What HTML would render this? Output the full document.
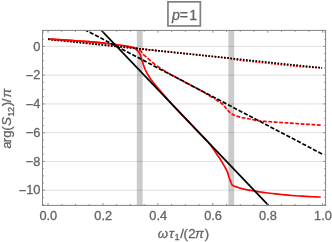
<!DOCTYPE html>
<html><head><meta charset="utf-8"><title>p=1</title>
<style>html,body{margin:0;padding:0;background:#fff;overflow:hidden}body{width:332px;height:242px;position:relative;font-family:"Liberation Sans",sans-serif}</style></head>
<body>
<svg width="332" height="242" viewBox="0 0 332 242" style="position:absolute;left:0;top:0;will-change:transform;font-family:'Liberation Sans',sans-serif">
<rect width="332" height="242" fill="#fff"/>
<style>text{stroke:#646464;stroke-width:0.3px}</style>
<defs><clipPath id="c"><rect x="42.5" y="30.4" width="283.1" height="175.0"/></clipPath></defs>
<rect x="136.82" y="30.4" width="5.8" height="175.0" fill="#cbcbcb"/>
<rect x="228.36" y="30.4" width="5.8" height="175.0" fill="#cbcbcb"/>
<line x1="42.5" x2="325.6" y1="46.40" y2="46.40" stroke="#000" stroke-width="0.9" stroke-opacity="0.14"/>
<line x1="42.5" x2="325.6" y1="75.16" y2="75.16" stroke="#000" stroke-width="0.9" stroke-opacity="0.14"/>
<line x1="42.5" x2="325.6" y1="103.92" y2="103.92" stroke="#000" stroke-width="0.9" stroke-opacity="0.14"/>
<line x1="42.5" x2="325.6" y1="132.68" y2="132.68" stroke="#000" stroke-width="0.9" stroke-opacity="0.14"/>
<line x1="42.5" x2="325.6" y1="161.44" y2="161.44" stroke="#000" stroke-width="0.9" stroke-opacity="0.14"/>
<line x1="42.5" x2="325.6" y1="190.20" y2="190.20" stroke="#000" stroke-width="0.9" stroke-opacity="0.14"/>
<g clip-path="url(#c)" fill="none" stroke-width="1.7" stroke-linejoin="round">
<path d="M126.00,46.10 L126.49,46.19 L127.15,46.32 L127.94,46.48 L128.81,46.65 L129.71,46.82 L130.59,47.00 L131.40,47.16 L132.10,47.30 L132.69,47.42 L133.23,47.54 L133.72,47.65 L134.18,47.76 L134.63,47.86 L135.07,47.96 L135.52,48.05 L136.00,48.15 L136.45,48.24 L136.85,48.33 L137.23,48.41 L137.62,48.48 L138.06,48.56 L138.58,48.65 L139.21,48.74 L140.00,48.84 L140.96,48.96 L142.08,49.08 L143.31,49.21 L144.62,49.34 L145.99,49.48 L147.36,49.62 L148.71,49.76 L150.00,49.89 L151.32,50.03 L152.73,50.18 L154.19,50.33 L155.62,50.48 L156.98,50.62 L158.20,50.75 L159.23,50.86 L160.00,50.94" stroke="#f00" stroke-dasharray="1.7 1.46" stroke-dashoffset="2.39"/>
<path d="M48.04,39.21 L229.00,58.16 L232.00,58.81 L235.00,59.46 L238.00,60.11 L260.00,62.41 L280.00,64.50 L300.00,66.60 L305.00,66.90 L310.00,67.19 L315.00,67.49 L320.00,67.78 L322.09,67.91" stroke="#f00" stroke-dasharray="1.7 1.46"/>
<path d="M126.00,46.10 L126.49,46.20 L127.17,46.33 L127.98,46.48 L128.87,46.66 L129.78,46.83 L130.66,47.01 L131.45,47.17 L132.10,47.30 L132.61,47.41 L133.05,47.49 L133.42,47.57 L133.74,47.64 L134.05,47.71 L134.34,47.79 L134.65,47.88 L135.00,48.00 L135.37,48.14 L135.74,48.29 L136.12,48.45 L136.49,48.62 L136.87,48.80 L137.25,48.99 L137.62,49.19 L138.00,49.40 L138.38,49.61 L138.75,49.82 L139.12,50.04 L139.50,50.26 L139.88,50.51 L140.25,50.77 L140.62,51.07 L141.00,51.40 L141.37,51.78 L141.74,52.20 L142.10,52.65 L142.46,53.12 L142.83,53.61 L143.21,54.09 L143.60,54.56 L144.00,55.00 L144.42,55.42 L144.86,55.83 L145.30,56.23 L145.76,56.63 L146.22,57.02 L146.68,57.41 L147.14,57.80 L147.60,58.20 L148.05,58.60 L148.51,59.01 L148.97,59.41 L149.42,59.82 L149.88,60.22 L150.34,60.62 L150.79,61.01 L151.25,61.40 L151.71,61.78 L152.16,62.15 L152.62,62.52 L153.08,62.89 L153.53,63.25 L153.99,63.60 L154.45,63.95 L154.90,64.30 L155.35,64.64 L155.80,64.97 L156.25,65.30 L156.70,65.62 L157.15,65.95 L157.60,66.26 L158.05,66.58 L158.50,66.90 L158.94,67.21 L159.37,67.52 L159.80,67.83 L160.23,68.13 L160.66,68.44 L161.12,68.75 L161.59,69.07 L162.10,69.40 L162.65,69.75 L163.24,70.12 L163.86,70.49 L164.50,70.88 L165.14,71.25 L165.76,71.62 L166.35,71.97 L166.90,72.30 L167.40,72.60 L167.86,72.88 L168.30,73.14 L168.72,73.39 L169.14,73.63 L169.56,73.88 L170.02,74.13 L170.50,74.40 L171.00,74.67 L171.50,74.93 L172.01,75.19 L172.54,75.46 L173.09,75.74 L173.68,76.04 L174.31,76.37 L175.00,76.74 L175.73,77.14 L176.50,77.56 L177.31,78.01 L178.16,78.49 L179.05,78.98 L179.98,79.50 L180.96,80.04 L182.00,80.60 L183.12,81.20 L184.34,81.84 L185.62,82.51 L186.94,83.20 L188.26,83.89 L189.57,84.57 L190.83,85.22 L192.00,85.84 L193.12,86.42 L194.23,87.00 L195.32,87.57 L196.38,88.12 L197.38,88.64 L198.33,89.14 L199.21,89.60 L200.00,90.03 L200.69,90.40 L201.27,90.73 L201.78,91.01 L202.23,91.27 L202.65,91.52 L203.07,91.77 L203.51,92.03 L204.00,92.32 L204.53,92.64 L205.08,92.97 L205.64,93.32 L206.20,93.66 L206.75,94.01 L207.30,94.35 L207.81,94.67 L208.30,94.97 L208.75,95.26 L209.17,95.52 L209.57,95.77 L209.96,96.02 L210.33,96.26 L210.71,96.50 L211.10,96.75 L211.50,97.00 L211.92,97.26 L212.34,97.53 L212.77,97.80 L213.21,98.07 L213.64,98.34 L214.07,98.61 L214.49,98.87 L214.90,99.13" stroke="#f00" stroke-dasharray="4.2 1.8" stroke-dashoffset="4.31"/>
<path d="M214.90,99.13 L215.30,99.38 L215.68,99.63 L216.06,99.87 L216.44,100.10 L216.81,100.34 L217.20,100.59 L217.59,100.84 L218.00,101.10 L218.43,101.38 L218.89,101.66 L219.37,101.96 L219.84,102.25 L220.32,102.55 L220.77,102.85 L221.20,103.15 L221.60,103.44 L221.96,103.72 L222.28,103.99 L222.58,104.25 L222.87,104.52 L223.15,104.79 L223.42,105.07 L223.70,105.37 L224.00,105.70 L224.31,106.05 L224.63,106.43 L224.95,106.84 L225.28,107.25 L225.59,107.66 L225.91,108.07 L226.21,108.45 L226.50,108.80 L226.78,109.13 L227.05,109.45 L227.31,109.75 L227.57,110.04 L227.82,110.31 L228.05,110.57 L228.28,110.82 L228.50,111.05 L228.70,111.26 L228.87,111.44 L229.03,111.61 L229.18,111.76 L229.34,111.91 L229.50,112.06 L229.69,112.22 L229.90,112.40 L230.14,112.60 L230.40,112.81 L230.68,113.03 L230.97,113.25 L231.28,113.48 L231.58,113.69 L231.89,113.90 L232.20,114.10 L232.48,114.28 L232.74,114.44 L232.98,114.59 L233.23,114.73 L233.52,114.88 L233.86,115.04 L234.28,115.21 L234.80,115.40 L235.42,115.62 L236.13,115.86 L236.91,116.12 L237.74,116.38 L238.62,116.65 L239.54,116.91 L240.47,117.16 L241.40,117.40 L242.34,117.62 L243.32,117.82 L244.31,118.01 L245.34,118.20 L246.39,118.39 L247.47,118.58 L248.57,118.78 L249.70,119.00 L250.85,119.24 L252.01,119.50 L253.19,119.77 L254.40,120.04 L255.65,120.31 L256.94,120.57 L258.29,120.80 L259.70,121.00 L261.11,121.16 L262.50,121.28 L263.90,121.38 L265.36,121.47 L266.94,121.55 L268.67,121.64 L270.61,121.76 L272.80,121.90 L275.29,122.07 L278.07,122.27 L281.06,122.48 L284.21,122.71 L287.44,122.93 L290.69,123.16 L293.90,123.39 L297.00,123.60 L300.19,123.82 L303.62,124.04 L307.14,124.28 L310.61,124.51 L313.90,124.72 L316.85,124.91 L319.33,125.08 L321.20,125.20" stroke="#f00" stroke-dasharray="3.8 1.6" stroke-dashoffset="4.57"/>
<path d="M49.30,39.20 L49.73,39.22 L50.29,39.24 L50.96,39.27 L51.71,39.30 L52.52,39.33 L53.35,39.37 L54.19,39.41 L55.00,39.45 L55.81,39.49 L56.64,39.54 L57.49,39.58 L58.36,39.63 L59.24,39.68 L60.15,39.74 L61.07,39.79 L62.00,39.85 L62.96,39.91 L63.95,39.98 L64.97,40.05 L66.00,40.12 L67.03,40.19 L68.05,40.26 L69.04,40.33 L70.00,40.40 L70.87,40.46 L71.63,40.52 L72.35,40.57 L73.06,40.62 L73.83,40.67 L74.71,40.74 L75.75,40.81 L77.00,40.90 L78.54,41.01 L80.35,41.13 L82.35,41.27 L84.44,41.41 L86.54,41.55 L88.55,41.70 L90.41,41.83 L92.00,41.95 L93.32,42.06 L94.43,42.15 L95.39,42.23 L96.26,42.32 L97.10,42.40 L97.97,42.49 L98.91,42.59 L100.00,42.70 L101.23,42.83 L102.56,42.97 L103.95,43.12 L105.37,43.28 L106.80,43.44 L108.20,43.60 L109.54,43.75 L110.80,43.90 L111.98,44.04 L113.13,44.18 L114.24,44.32 L115.31,44.46 L116.35,44.59 L117.36,44.73 L118.34,44.86 L119.30,45.00 L120.23,45.14 L121.12,45.27 L121.97,45.41 L122.80,45.54 L123.61,45.68 L124.41,45.82 L125.20,45.96 L126.00,46.10 L126.82,46.25 L127.65,46.40 L128.49,46.55 L129.32,46.71 L130.11,46.86 L130.85,47.01 L131.52,47.16 L132.10,47.30 L132.58,47.43 L132.97,47.55 L133.29,47.67 L133.56,47.79 L133.80,47.90 L134.02,48.03 L134.25,48.16 L134.50,48.30 L134.76,48.46 L135.02,48.62 L135.27,48.79 L135.51,48.97 L135.74,49.15 L135.96,49.33 L136.19,49.52 L136.40,49.70 L136.61,49.88 L136.80,50.06 L136.99,50.23 L137.18,50.41 L137.36,50.60 L137.53,50.79 L137.72,50.99 L137.90,51.20 L138.09,51.43 L138.29,51.66 L138.48,51.91 L138.68,52.17 L138.87,52.43 L139.06,52.69 L139.24,52.95 L139.40,53.20 L139.55,53.44 L139.69,53.66 L139.81,53.88 L139.93,54.10 L140.05,54.33 L140.16,54.59 L140.28,54.87 L140.40,55.20 L140.52,55.57 L140.64,55.99 L140.76,56.43 L140.88,56.89 L141.00,57.37 L141.13,57.86 L141.26,58.33 L141.40,58.80 L141.55,59.26 L141.71,59.72 L141.87,60.18 L142.04,60.65 L142.21,61.12 L142.38,61.58 L142.54,62.04 L142.70,62.50 L142.85,62.95 L143.00,63.41 L143.15,63.86 L143.29,64.31 L143.44,64.75 L143.59,65.20 L143.74,65.65 L143.90,66.10 L144.06,66.55 L144.23,67.00 L144.39,67.45 L144.56,67.90 L144.74,68.35 L144.92,68.80 L145.10,69.25 L145.30,69.70 L145.50,70.15 L145.71,70.60 L145.93,71.05 L146.15,71.50 L146.38,71.95 L146.61,72.40 L146.85,72.85 L147.10,73.30 L147.35,73.75 L147.61,74.20 L147.88,74.65 L148.16,75.09 L148.44,75.54 L148.72,75.99 L149.01,76.45 L149.30,76.90 L149.59,77.36 L149.89,77.82 L150.19,78.28 L150.50,78.74 L150.81,79.20 L151.13,79.67 L151.46,80.13 L151.80,80.60 L152.15,81.07 L152.51,81.55 L152.88,82.02 L153.26,82.50 L153.65,82.98 L154.03,83.45 L154.42,83.93 L154.80,84.40 L155.16,84.85 L155.50,85.26 L155.83,85.66 L156.17,86.06 L156.53,86.49 L156.93,86.96 L157.38,87.49 L157.90,88.10 L158.51,88.81 L159.21,89.62 L159.97,90.50 L160.76,91.41 L161.57,92.34 L162.36,93.25 L163.11,94.11 L163.80,94.90 L164.42,95.61 L164.98,96.25 L165.51,96.85 L166.02,97.44 L166.54,98.02 L167.08,98.63 L167.66,99.28 L168.30,100.00 L169.00,100.78 L169.73,101.59 L170.49,102.44 L171.29,103.32 L172.10,104.22 L172.94,105.14 L173.79,106.06 L174.65,107.00 L175.52,107.94 L176.40,108.88 L177.30,109.84 L178.22,110.81 L179.16,111.81 L180.14,112.84 L181.14,113.90 L182.19,115.00 L183.29,116.15 L184.43,117.36 L185.62,118.60 L186.84,119.88 L188.07,121.16 L189.30,122.45 L190.53,123.74 L191.74,125.00 L192.94,126.26 L194.17,127.55 L195.40,128.84 L196.63,130.12 L197.84,131.40 L199.03,132.64 L200.18,133.85 L201.29,135.00 L202.35,136.10 L203.39,137.16 L204.40,138.19 L205.38,139.19 L206.32,140.16 L207.23,141.12 L208.10,142.06 L208.92,143.00 L209.70,143.94 L210.44,144.87 L211.13,145.79 L211.79,146.69 L212.41,147.57 L213.00,148.41 L213.56,149.23 L214.10,150.00 L214.60,150.73 L215.05,151.42 L215.47,152.08 L215.86,152.71 L216.23,153.32 L216.59,153.90 L216.94,154.46 L217.30,155.00 L217.63,155.48 L217.92,155.86 L218.19,156.20 L218.46,156.52 L218.74,156.89 L219.06,157.32 L219.44,157.88 L219.90,158.60 L220.47,159.53 L221.15,160.67 L221.90,161.94 L222.69,163.27 L223.47,164.62 L224.20,165.89 L224.86,167.04 L225.40,168.00 L225.82,168.75 L226.16,169.36 L226.43,169.86 L226.65,170.28 L226.84,170.67 L227.02,171.06 L227.20,171.49 L227.40,172.00 L227.61,172.58 L227.81,173.18 L228.00,173.81 L228.18,174.45 L228.36,175.09 L228.54,175.72 L228.72,176.32 L228.90,176.90 L229.09,177.45 L229.28,177.98 L229.46,178.49 L229.65,178.99 L229.84,179.48 L230.03,179.96 L230.21,180.43 L230.40,180.90 L230.59,181.38 L230.78,181.86 L230.96,182.35 L231.15,182.82 L231.34,183.27 L231.53,183.69 L231.71,184.07 L231.90,184.40 L232.07,184.67 L232.23,184.88 L232.37,185.04 L232.53,185.18 L232.69,185.30 L232.88,185.42 L233.12,185.55 L233.40,185.70 L233.73,185.87 L234.10,186.04 L234.50,186.21 L234.94,186.39 L235.40,186.56 L235.88,186.74 L236.38,186.92 L236.90,187.10 L237.44,187.28 L238.00,187.47 L238.59,187.66 L239.19,187.86 L239.82,188.05 L240.46,188.24 L241.13,188.42 L241.80,188.60 L242.47,188.77 L243.12,188.93 L243.78,189.08 L244.47,189.24 L245.19,189.39 L245.98,189.55 L246.84,189.72 L247.80,189.90 L248.86,190.09 L250.01,190.30 L251.24,190.51 L252.53,190.73 L253.86,190.95 L255.23,191.17 L256.61,191.39 L258.00,191.60 L259.32,191.80 L260.57,192.00 L261.80,192.19 L263.07,192.38 L264.47,192.57 L266.04,192.78 L267.87,193.00 L270.00,193.25 L272.50,193.53 L275.32,193.84 L278.39,194.18 L281.64,194.52 L285.00,194.86 L288.40,195.19 L291.75,195.49 L295.00,195.75 L298.35,195.98 L301.98,196.20 L305.72,196.40 L309.41,196.58 L312.91,196.74 L316.07,196.88 L318.71,197.00 L320.70,197.10" stroke="#f00"/>
<path d="M48.04,39.21 L322.09,67.91" stroke="#000" stroke-dasharray="1.7 1.46"/>
<path d="M49.30,39.20 L49.73,39.22 L50.29,39.24 L50.96,39.27 L51.71,39.30 L52.52,39.33 L53.35,39.37 L54.19,39.41 L55.00,39.45 L55.81,39.49 L56.64,39.54 L57.49,39.58 L58.36,39.63 L59.24,39.68 L60.15,39.74 L61.07,39.79 L62.00,39.85 L62.96,39.91 L63.95,39.98 L64.97,40.05 L66.00,40.12 L67.03,40.19 L68.05,40.26 L69.04,40.33 L70.00,40.40 L70.87,40.46 L71.63,40.52 L72.35,40.57 L73.06,40.62 L73.83,40.67 L74.71,40.74 L75.75,40.81 L77.00,40.90 L78.54,41.01 L80.35,41.13 L82.35,41.27 L84.44,41.41 L86.54,41.55 L88.55,41.70 L90.41,41.83 L92.00,41.95 L93.32,42.06 L94.43,42.15 L95.39,42.23 L96.26,42.32 L97.10,42.40 L97.97,42.49 L98.91,42.59 L100.00,42.70 L101.23,42.83 L102.56,42.97 L103.95,43.12 L105.37,43.28" stroke="#f00"/>
<path d="M86.14,30.40 L323.05,154.47" stroke="#000" stroke-dasharray="4.2 1.8" stroke-dashoffset="-4.07"/>
<path d="M101.41,30.40 L268.50,205.40" stroke="#000"/>
</g>
<rect x="42.5" y="30.4" width="283.1" height="175.0" fill="none" stroke="#828282" stroke-width="1"/>
<path d="M48.04,205.4v-2.3M48.04,30.4v2.3M61.77,205.4v-1.4M61.77,30.4v1.4M75.50,205.4v-1.4M75.50,30.4v1.4M89.23,205.4v-1.4M89.23,30.4v1.4M102.96,205.4v-2.3M102.96,30.4v2.3M116.69,205.4v-1.4M116.69,30.4v1.4M130.42,205.4v-1.4M130.42,30.4v1.4M144.15,205.4v-1.4M144.15,30.4v1.4M157.88,205.4v-2.3M157.88,30.4v2.3M171.61,205.4v-1.4M171.61,30.4v1.4M185.34,205.4v-1.4M185.34,30.4v1.4M199.07,205.4v-1.4M199.07,30.4v1.4M212.80,205.4v-2.3M212.80,30.4v2.3M226.53,205.4v-1.4M226.53,30.4v1.4M240.26,205.4v-1.4M240.26,30.4v1.4M253.99,205.4v-1.4M253.99,30.4v1.4M267.72,205.4v-2.3M267.72,30.4v2.3M281.45,205.4v-1.4M281.45,30.4v1.4M295.18,205.4v-1.4M295.18,30.4v1.4M308.91,205.4v-1.4M308.91,30.4v1.4M322.64,205.4v-2.3M322.64,30.4v2.3M42.5,204.58h1.4M325.6,204.58h-1.4M42.5,197.39h1.4M325.6,197.39h-1.4M42.5,190.20h2.3M325.6,190.20h-2.3M42.5,183.01h1.4M325.6,183.01h-1.4M42.5,175.82h1.4M325.6,175.82h-1.4M42.5,168.63h1.4M325.6,168.63h-1.4M42.5,161.44h2.3M325.6,161.44h-2.3M42.5,154.25h1.4M325.6,154.25h-1.4M42.5,147.06h1.4M325.6,147.06h-1.4M42.5,139.87h1.4M325.6,139.87h-1.4M42.5,132.68h2.3M325.6,132.68h-2.3M42.5,125.49h1.4M325.6,125.49h-1.4M42.5,118.30h1.4M325.6,118.30h-1.4M42.5,111.11h1.4M325.6,111.11h-1.4M42.5,103.92h2.3M325.6,103.92h-2.3M42.5,96.73h1.4M325.6,96.73h-1.4M42.5,89.54h1.4M325.6,89.54h-1.4M42.5,82.35h1.4M325.6,82.35h-1.4M42.5,75.16h2.3M325.6,75.16h-2.3M42.5,67.97h1.4M325.6,67.97h-1.4M42.5,60.78h1.4M325.6,60.78h-1.4M42.5,53.59h1.4M325.6,53.59h-1.4M42.5,46.40h2.3M325.6,46.40h-2.3M42.5,39.21h1.4M325.6,39.21h-1.4M42.5,32.02h1.4M325.6,32.02h-1.4" stroke="#828282" stroke-width="0.9" fill="none"/>
<text x="48.34" y="219.8" font-size="12.8" fill="#646464" text-anchor="middle">0.0</text>
<text x="103.26" y="219.8" font-size="12.8" fill="#646464" text-anchor="middle">0.2</text>
<text x="158.18" y="219.8" font-size="12.8" fill="#646464" text-anchor="middle">0.4</text>
<text x="213.10" y="219.8" font-size="12.8" fill="#646464" text-anchor="middle">0.6</text>
<text x="268.02" y="219.8" font-size="12.8" fill="#646464" text-anchor="middle">0.8</text>
<text x="322.94" y="219.8" font-size="12.8" fill="#646464" text-anchor="middle">1.0</text>
<text x="40.4" y="50.50" font-size="12.8" fill="#646464" text-anchor="end">0</text>
<text x="40.4" y="79.26" font-size="12.8" fill="#646464" text-anchor="end"><tspan dy="0.7">−</tspan><tspan dy="-0.7">2</tspan></text>
<text x="40.4" y="108.02" font-size="12.8" fill="#646464" text-anchor="end"><tspan dy="0.7">−</tspan><tspan dy="-0.7">4</tspan></text>
<text x="40.4" y="136.78" font-size="12.8" fill="#646464" text-anchor="end"><tspan dy="0.7">−</tspan><tspan dy="-0.7">6</tspan></text>
<text x="40.4" y="165.54" font-size="12.8" fill="#646464" text-anchor="end"><tspan dy="0.7">−</tspan><tspan dy="-0.7">8</tspan></text>
<text x="40.4" y="194.30" font-size="12.8" fill="#646464" text-anchor="end"><tspan dy="0.7">−</tspan><tspan dy="-0.7">10</tspan></text>
<text fill="#646464"><tspan x="157.80" y="237.80" font-size="13.2" font-style="italic">ω</tspan><tspan x="168.95" y="237.80" font-size="13.2" font-style="italic">τ</tspan><tspan x="174.54" y="240.10" font-size="9.3">1</tspan><tspan x="180.37" y="237.80" font-size="13.2">/</tspan><tspan x="183.53" y="237.80" font-size="13.2">(</tspan><tspan x="188.13" y="237.80" font-size="13.2">2</tspan><tspan x="195.04" y="237.80" font-size="13.2" font-style="italic">π</tspan><tspan x="204.67" y="237.80" font-size="13.2">)</tspan></text>
<text transform="translate(11.4,118.0) rotate(-90)" fill="#646464"><tspan x="-30.85" y="0.00" font-size="13.2">a</tspan><tspan x="-24.33" y="0.00" font-size="13.2">r</tspan><tspan x="-19.82" y="0.00" font-size="13.2">g</tspan><tspan x="-12.67" y="0.00" font-size="13.2">(</tspan><tspan x="-7.77" y="0.00" font-size="13.2" font-style="italic">S</tspan><tspan x="1.29" y="3.00" font-size="9.3">1</tspan><tspan x="6.11" y="3.00" font-size="9.3">2</tspan><tspan x="11.67" y="0.00" font-size="13.2">)</tspan><tspan x="15.87" y="0.00" font-size="13.2">/</tspan><tspan x="20.49" y="0.00" font-size="13.2" font-style="italic">π</tspan></text>
<rect x="167.95" y="1.85" width="32.4" height="24.1" fill="#fff" stroke="#808080" stroke-width="1.7"/>
<text fill="#646464"><tspan x="172.01" y="19.80" font-size="14.2" font-style="italic">p</tspan><tspan x="179.81" y="20.40" font-size="14.2">=</tspan><tspan x="189.27" y="19.80" font-size="14.2">1</tspan></text>
</svg>
</body></html>
